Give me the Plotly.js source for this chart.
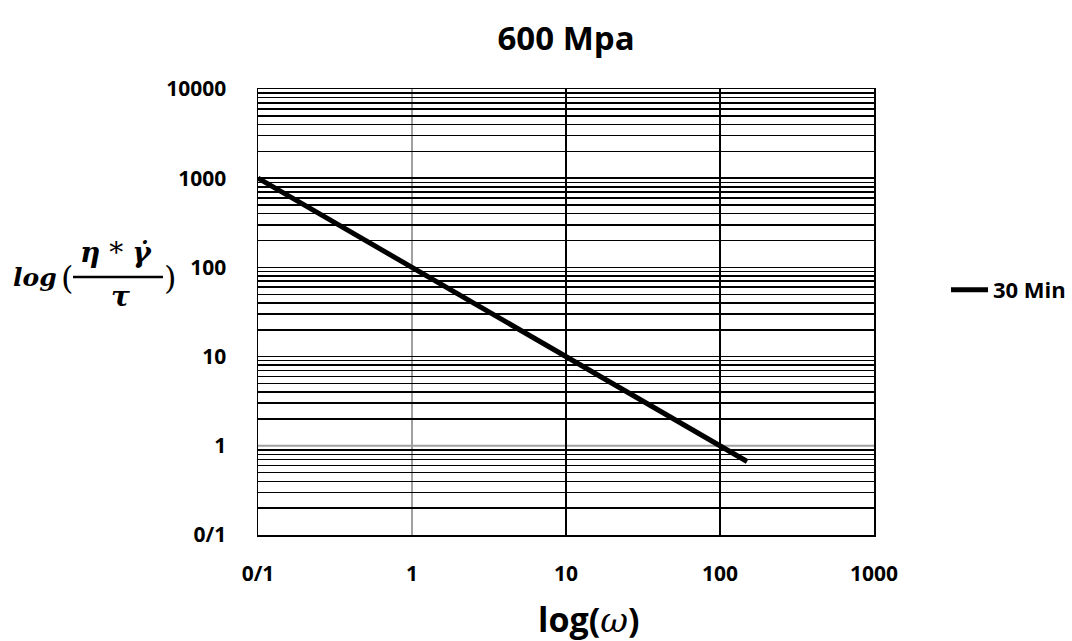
<!DOCTYPE html>
<html>
<head>
<meta charset="utf-8">
<script src="https://cdn.plot.ly/plotly-3.0.1.min.js"></script>
<style>
html,body{margin:0;padding:0;background:#fff;}
#chart{width:1072px;height:641px;}
#chart .minor-gridlayer path, #chart .gridlayer path { shape-rendering: crispEdges; }
</style>
</head>
<body>
<div id="chart"></div>
<script>
// Data
const omega = [0.1, 1, 10, 100, 150];
const ratio30 = [1000, 100, 10, 1, 0.667];
const seriesName = '30 Min';
const xTickVals = [0.1, 1, 10, 100, 1000];
const xTickText = ['0/1', '1', '10', '100', '1000'];
const yTickVals = [0.1, 1, 10, 100, 1000, 10000];
const yTickText = ['0/1', '1', '10', '100', '1000', '10000'];
const yDecades = [0.1, 1, 10, 100, 1000];
const minorDigits = [2, 3, 4, 5, 6, 7, 8, 9];
const blackGridX = [10, 100];
const blackGridYDecades = [10, 100, 1000];
const grayGridX = [1];
const grayGridY = [1];

const yBlackVals = blackGridYDecades.slice();
yDecades.forEach(function (d) { minorDigits.forEach(function (m) { yBlackVals.push(d * m); }); });

const L = 258, R = 198, T = 89, B = 106, W = 1072, H = 641;
const pw = W - L - R, ph = H - T - B;
function px2paperX(p) { return (p - L) / pw; }
function px2paperY(p) { return (H - B - p) / ph; }

const tickFont = {family: 'Open Sans, sans-serif', size: 21, color: '#000', weight: 'bold'};
const mathFont = 'DejaVu Serif, serif';
const gridW = 1.5;

const trace = {
  x: omega, y: ratio30, name: seriesName, type: 'scatter', mode: 'lines',
  line: {color: '#000', width: 5}
};

const grayShapes = [];
grayGridX.forEach(function (v) {
  grayShapes.push({type: 'line', xref: 'x', yref: 'paper', x0: v, x1: v, y0: 0, y1: 1, layer: 'below',
                   line: {color: '#a0a0a0', width: 2}});
});
grayGridY.forEach(function (v) {
  grayShapes.push({type: 'line', xref: 'paper', yref: 'y', x0: 0, x1: 1, y0: v, y1: v, layer: 'below',
                   line: {color: '#a0a0a0', width: 2}});
});

const layout = {
  width: W, height: H,
  margin: {l: L, r: R, t: T, b: B, pad: 0, autoexpand: false},
  paper_bgcolor: '#fff', plot_bgcolor: '#fff',
  title: {text: '<b>600 Mpa</b>', x: 0.528, xanchor: 'center', y: 0.94, yanchor: 'middle',
          font: {family: 'Open Sans, sans-serif', size: 33, color: '#000'}},
  showlegend: true,
  legend: {x: px2paperX(946), y: px2paperY(290), xanchor: 'left', yanchor: 'middle',
           itemwidth: 37,
           font: {family: 'Open Sans, sans-serif', size: 22, color: '#000', weight: 'bold'},
           bgcolor: 'rgba(0,0,0,0)'},
  xaxis: {
    type: 'log', range: [-1, 3], tickmode: 'array', tickvals: xTickVals, ticktext: xTickText,
    showgrid: false,
    minor: {tickmode: 'array', tickvals: blackGridX, showgrid: true, gridcolor: '#000', gridwidth: gridW, ticks: ''},
    showline: true, linecolor: '#000', linewidth: 1.5, mirror: true,
    ticks: '', ticklabelstandoff: 19, tickfont: tickFont, zeroline: false
  },
  yaxis: {
    type: 'log', range: [-1, 4], tickmode: 'array', tickvals: yTickVals, ticktext: yTickText,
    showgrid: false,
    minor: {tickmode: 'array', tickvals: yBlackVals, showgrid: true, gridcolor: '#000', gridwidth: gridW, ticks: ''},
    showline: true, linecolor: '#000', linewidth: 1.5, mirror: true,
    ticks: '', ticklabelstandoff: 26, tickfont: tickFont, zeroline: false
  },
  shapes: grayShapes.concat([
    // fraction bar of y-axis title
    {type: 'line', xref: 'paper', yref: 'paper', x0: px2paperX(73), x1: px2paperX(163),
     y0: px2paperY(277), y1: px2paperY(277), line: {color: '#000', width: 2.5}}
  ]),
  annotations: [
    {xref: 'paper', yref: 'paper', x: px2paperX(11), y: px2paperY(277), xanchor: 'left', yanchor: 'middle',
     text: '<b><i>log</i></b>', showarrow: false, font: {family: mathFont, size: 25, color: '#000'}},
    {xref: 'paper', yref: 'paper', x: px2paperX(59), y: px2paperY(278), xanchor: 'left', yanchor: 'middle',
     text: '(', showarrow: false, font: {family: mathFont, size: 32, color: '#000'}},
    {xref: 'paper', yref: 'paper', x: px2paperX(116), y: px2paperY(253), xanchor: 'center', yanchor: 'middle',
     text: '<b><i>η</i></b> * <b><i>γ̇</i></b>', showarrow: false, font: {family: mathFont, size: 28, color: '#000'}},
    {xref: 'paper', yref: 'paper', x: px2paperX(120), y: px2paperY(296), xanchor: 'center', yanchor: 'middle',
     text: '<b><i>τ</i></b>', showarrow: false, font: {family: mathFont, size: 28, color: '#000'}},
    {xref: 'paper', yref: 'paper', x: px2paperX(162), y: px2paperY(278), xanchor: 'left', yanchor: 'middle',
     text: ')', showarrow: false, font: {family: mathFont, size: 32, color: '#000'}},
    {xref: 'paper', yref: 'paper', x: px2paperX(588), y: px2paperY(619), xanchor: 'center', yanchor: 'middle',
     text: '<b>log(</b><span style="font-family:DejaVu Serif,serif"><i>ω</i></span><b>)</b>', showarrow: false,
     font: {family: 'Open Sans, sans-serif', size: 34, color: '#000'}}
  ]
};

Plotly.newPlot('chart', [trace], layout, {displayModeBar: false, staticPlot: true});
</script>
</body>
</html>
